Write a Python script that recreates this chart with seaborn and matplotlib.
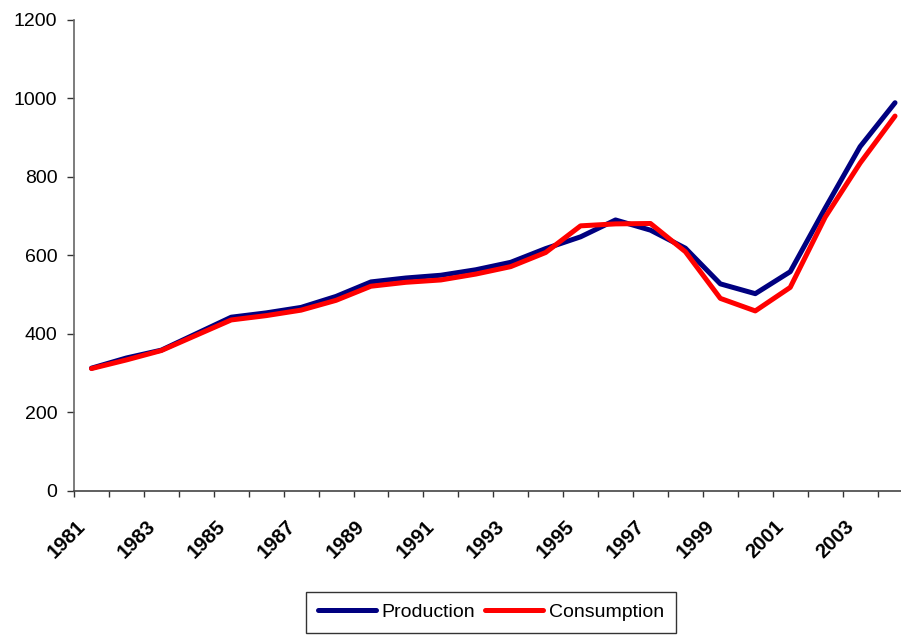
import pandas as pd
import numpy as np
import matplotlib
matplotlib.use('Agg')
import matplotlib.pyplot as plt
import matplotlib.transforms as mtransforms
import seaborn as sns

# 값은 그림에서 읽은 추정치
years = list(range(1981, 2005))
production = [312, 338, 358, 400, 442, 453, 467, 495, 532, 542, 549, 563,
              582, 617, 647, 690, 664, 618, 527, 502, 558, 720, 877, 989]
consumption = [311, 333, 357, 396, 435, 446, 460, 485, 521, 531, 537, 552,
               571, 607, 675, 680, 681, 609, 490, 458, 518, 697, 835, 955]
series_names = ['Production', 'Consumption']
colors = {'Production': '#000080', 'Consumption': '#FF0000'}
y_ticks = [0, 200, 400, 600, 800, 1000, 1200]
label_years = years[:-1:2]

df = pd.DataFrame({'year': years * 2,
                   'value': production + consumption,
                   'series': [series_names[0]] * len(years) + [series_names[1]] * len(years)})

sns.set_style('white')
plt.rcParams['font.family'] = ['Liberation Sans', 'DejaVu Sans']
plt.rcParams['text.color'] = 'black'
plt.rcParams['xtick.color'] = 'black'
plt.rcParams['ytick.color'] = 'black'

fig = plt.figure(figsize=(9.01, 6.35), dpi=100)
ax = fig.add_axes([74 / 901, 1 - 490.5 / 635, 838.5 / 901, 470.5 / 635])

sns.lineplot(data=df, x='year', y='value', hue='series', palette=colors,
             linewidth=3.6, solid_capstyle='round', solid_joinstyle='round', ax=ax)

ax.set_xlim(years[0] - 0.5, years[-1] + 0.5)
ax.set_ylim(0, 1200)
ax.set_yticks(y_ticks)
ax.set_yticklabels([str(v) for v in y_ticks], fontsize=14)
ax.set_xticks(label_years)
ax.set_xticklabels([str(y) for y in label_years], fontsize=14.5, fontweight='bold',
                   rotation=45, ha='right', va='center', rotation_mode='anchor')
ax.set_xticks(np.arange(years[0] - 0.5, years[-1] + 0.5, 1), minor=True)
ax.tick_params(axis='x', which='major', bottom=True, length=0, pad=24)
ax.tick_params(axis='x', which='minor', bottom=True, length=4.5, width=1, color='#333333', direction='out')
ax.tick_params(axis='y', left=True, length=5, width=1, color='#333333', direction='out', pad=7)
offset = mtransforms.ScaledTranslation(-9 / 100, 0, fig.dpi_scale_trans)
for lab in ax.get_xticklabels():
    lab.set_transform(lab.get_transform() + offset)
ax.set_xlabel('')
ax.set_ylabel('')
sns.despine(ax=ax, top=True, right=True)
ax.spines['left'].set_color('#666666')
ax.spines['bottom'].set_color('#444444')
ax.spines['left'].set_linewidth(1.2)
ax.spines['bottom'].set_linewidth(1.2)

handles, labels = ax.get_legend_handles_labels()
ax.get_legend().remove()
leg = fig.legend(handles, labels, loc='upper center', bbox_to_anchor=(491 / 901, 1 - 592 / 635),
                 ncol=2, fontsize=14, frameon=True, fancybox=False, handlelength=3.0,
                 handletextpad=0.3, columnspacing=0.5, borderpad=0.6, borderaxespad=0)
leg.get_frame().set_edgecolor('#000000')
leg.get_frame().set_linewidth(1)

fig.savefig('out.png', dpi=100)
